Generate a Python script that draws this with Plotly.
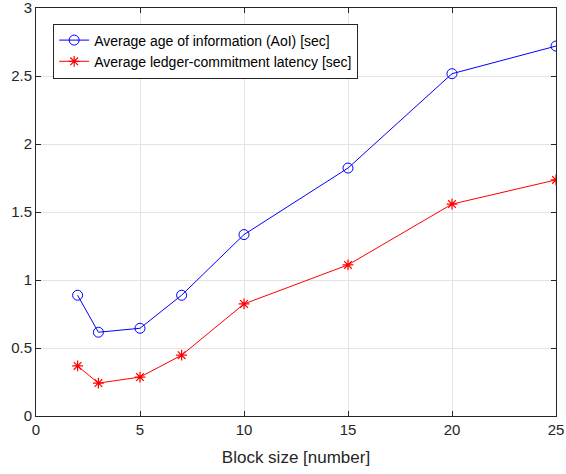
import plotly.graph_objects as go

block_size = [2, 3, 5, 7, 10, 15, 20, 25]
aoi = [0.888, 0.616, 0.645, 0.888, 1.334, 1.823, 2.517, 2.72]
latency = [0.368, 0.242, 0.286, 0.447, 0.824, 1.111, 1.558, 1.736]

FONT = "Liberation Sans"

fig = go.Figure()
fig.add_trace(go.Scatter(
    x=block_size, y=aoi, mode="lines+markers",
    name="Average age of information (AoI) [sec]",
    line=dict(color="#0000ff", width=1),
    marker=dict(symbol="circle-open", size=10, color="#0000ff", line=dict(width=1)),
))
fig.add_trace(go.Scatter(
    x=block_size, y=latency, mode="lines+markers",
    name="Average ledger-commitment latency [sec]",
    line=dict(color="#ff0000", width=1),
    marker=dict(symbol="asterisk-open", size=9, color="#ff0000", line=dict(width=1.2, color="#ff0000")),
))

axis_common = dict(
    showgrid=True, gridcolor="#e3e3e3", gridwidth=1,
    showline=True, linecolor="#262626", linewidth=1, mirror="ticks",
    ticks="inside", ticklen=5, tickcolor="#262626",
    tickfont=dict(family=FONT, size=15, color="#262626"),
    zeroline=False, automargin=False, ticklabeloverflow="allow",
)
fig.update_xaxes(range=[0, 25], dtick=5, **axis_common,
                 title=dict(text="Block size [number]", font=dict(family=FONT, size=17, color="#262626"), standoff=14))
fig.update_yaxes(range=[0, 3], dtick=0.5, **axis_common)

fig.update_layout(
    width=566, height=474,
    margin=dict(l=36, r=10, t=8, b=58),
    paper_bgcolor="white", plot_bgcolor="white",
    showlegend=True,
    legend=dict(x=0.033, y=0.962, xanchor="left", yanchor="top",
                bgcolor="white", bordercolor="#262626", borderwidth=1,
                font=dict(family=FONT, size=14, color="#000000"),
                tracegroupgap=0),
)
fig.write_html("out.html", config={"displayModeBar": False},
               post_script="document.body.style.margin='0';document.body.style.overflow='hidden';")
